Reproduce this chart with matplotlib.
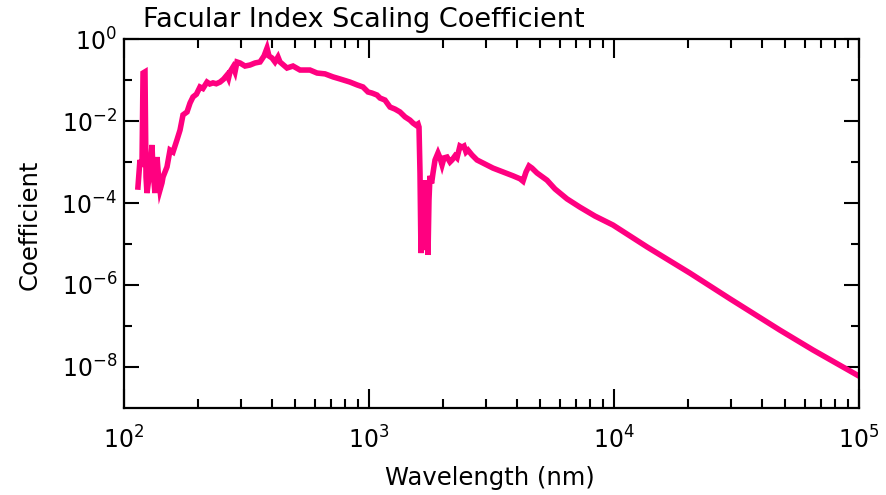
import matplotlib
matplotlib.use("Agg")
import matplotlib.pyplot as plt
from matplotlib.ticker import FixedLocator, FixedFormatter, LogLocator, NullFormatter

# Wavelength (nm) and facular index scaling coefficient
wavelength = [114.0, 116.2, 118.4, 119.6, 121.8, 123.0, 124.1, 127.6, 130.1, 131.3,
              133.8, 136.4, 137.7, 140.3, 142.9, 144.3, 149.8, 154.1, 158.5, 164.6,
              169.3, 174.1, 180.8, 186.0, 191.3, 197.5, 204.2, 210.0, 218.2, 224.0,
              230.8, 238.0, 246.6, 255.0, 263.3, 267.0,
              270.8, 278.6, 283.9, 289.2, 297.5, 311.8, 326.8, 342.5, 359.1, 372.8,
              383.5, 390.7, 401.9, 413.3, 425.1, 433.2, 462.8, 489.5, 522.9, 574.3,
              613.5, 661.4, 713.1, 761.3, 836.4, 893.4, 944.9, 990.6, 1028.5, 1078,
              1109, 1162, 1218, 1277, 1338, 1403, 1470, 1512, 1555, 1585,
              1600, 1615, 1630, 1646, 1661, 1677, 1692, 1708, 1725, 1741,
              1757, 1774, 1800, 1825, 1860, 1912, 1949, 1987, 2024, 2082, 2141,
              2182, 2244, 2287, 2351, 2396, 2442, 2489, 2536, 2633, 2759,
              2975, 3207, 3524, 3871, 4133, 4252, 4374, 4499, 4627, 4850,
              5327, 5743, 6430, 7264, 8363, 9906, 13640, 20420, 29760, 47610,
              64900, 100000]
coefficient = [2.45e-4, 1.12e-3, 7.6e-4, 0.148, 0.158, 4.3e-4, 1.75e-4, 6.3e-4, 2.6e-3, 6.3e-4,
               1.75e-4, 1.32e-3, 6.3e-4, 2.1e-4, 3.1e-4, 4.3e-4, 7.6e-4, 1.95e-3, 1.75e-3, 3.5e-3,
               6.0e-3, 0.0141, 0.0166, 0.0275, 0.0387, 0.045, 0.0676, 0.062, 0.089, 0.080,
               0.085, 0.081, 0.089, 0.105, 0.132, 0.110,
               0.158, 0.208, 0.158, 0.275, 0.26, 0.219, 0.232, 0.26, 0.275, 0.385,
               0.60, 0.385, 0.344, 0.275, 0.365, 0.275, 0.196, 0.219, 0.175, 0.175,
               0.148, 0.141, 0.119, 0.106, 0.089, 0.076, 0.0676, 0.051, 0.048, 0.043,
               0.0363, 0.0324, 0.0219, 0.0195, 0.0166, 0.0126, 0.0105, 8.9e-3, 7.9e-3, 8.5e-3,
               7.1e-3, 5.4e-4, 6.0e-6, 1.18e-4, 3.6e-4, 1.26e-5, 5.7e-5, 7.1e-6, 3.6e-4, 5.4e-6,
               1.18e-4, 4.6e-4, 3.0e-4, 5.4e-4, 1.12e-3, 1.66e-3, 1.26e-3, 8.5e-4, 1.26e-3, 1.32e-3, 1.0e-3,
               1.12e-3, 1.41e-3, 1.26e-3, 2.45e-3, 2.3e-3, 2.45e-3, 1.75e-3, 1.95e-3, 1.48e-3, 1.12e-3,
               8.9e-4, 7.1e-4, 5.7e-4, 4.6e-4, 3.9e-4, 3.4e-4, 5.7e-4, 8.0e-4, 7.1e-4, 5.4e-4,
               3.6e-4, 2.2e-4, 1.26e-4, 7.9e-5, 4.8e-5, 2.9e-5, 8.5e-6, 1.95e-6, 4.6e-7, 7.9e-8,
               2.6e-8, 6.0e-9]

x_ticks = [1e2, 1e3, 1e4, 1e5]
x_tick_labels = [r'$10^{2}$', r'$10^{3}$', r'$10^{4}$', r'$10^{5}$']
y_ticks = [1e0, 1e-2, 1e-4, 1e-6, 1e-8]
y_tick_labels = [r'$10^{0}$', r'$10^{-2}$', r'$10^{-4}$', r'$10^{-6}$', r'$10^{-8}$']
y_minor_ticks = [1e-1, 1e-3, 1e-5, 1e-7]

plt.rcParams['font.family'] = ['DejaVu Sans']
plt.rcParams['mathtext.fontset'] = 'dejavusans'

W, H = 886, 495
fig = plt.figure(figsize=(W / 100, H / 100), dpi=100)
L, R, T, B = 124, 859, 39, 408
ax = fig.add_axes([L / W, 1 - B / H, (R - L) / W, (B - T) / H])

ax.plot(wavelength, coefficient, color='#ff0080', lw=4, solid_joinstyle='miter')
ax.set_xscale('log')
ax.set_yscale('log')
ax.set_xlim(1e2, 1e5)
ax.set_ylim(1e-9, 1e0)

ax.xaxis.set_major_locator(FixedLocator(x_ticks))
ax.xaxis.set_major_formatter(FixedFormatter(x_tick_labels))
ax.xaxis.set_minor_locator(LogLocator(base=10, subs=[2, 3, 4, 5, 6, 7, 8, 9], numticks=20))
ax.xaxis.set_minor_formatter(NullFormatter())
ax.yaxis.set_major_locator(FixedLocator(y_ticks))
ax.yaxis.set_major_formatter(FixedFormatter(y_tick_labels))
ax.yaxis.set_minor_locator(FixedLocator(y_minor_ticks))
ax.yaxis.set_minor_formatter(NullFormatter())

for s in ax.spines.values():
    s.set_linewidth(1.6)
    s.set_color('black')

ax.tick_params(axis='x', which='major', direction='in', length=13.5, width=1.5,
               top=True, bottom=True, labelsize=17, pad=13)
ax.tick_params(axis='x', which='minor', direction='in', length=6.5, width=1.5,
               top=True, bottom=True)
ax.tick_params(axis='y', which='major', direction='in', length=10.5, width=1.5,
               left=True, right=True, labelsize=17, pad=5)
ax.tick_params(axis='y', which='minor', direction='in', length=5.5, width=1.5,
               left=True, right=True)

fig.text(143 / W, 1 - 27 / H, 'Facular Index Scaling Coefficient', fontsize=19.5,
         ha='left', va='baseline')
fig.text(490 / W, 1 - 478 / H, 'Wavelength (nm)', fontsize=17.5, ha='center', va='center')
fig.text(30 / W, 1 - 225 / H, 'Coefficient', fontsize=17.5, rotation=90,
         ha='center', va='center')

fig.savefig('out.png', dpi=100)
